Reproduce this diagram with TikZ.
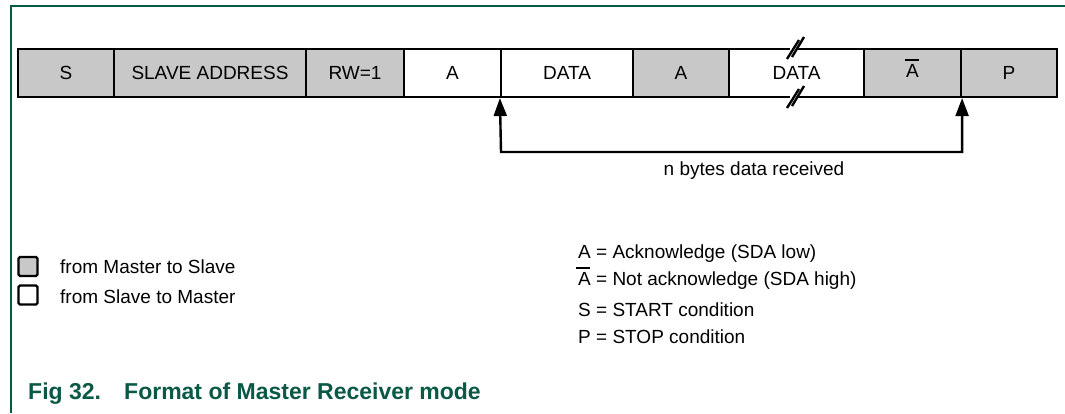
\documentclass[tikz,border=0pt]{standalone}
\usepackage{fontspec}
\setmainfont{Liberation Sans}
\usetikzlibrary{arrows.meta}
\definecolor{nxpgreen}{RGB}{10,88,70}
\definecolor{fieldgray}{RGB}{200,200,200}
\tikzset{
  field/.style={draw=black, line width=2.2pt, minimum height=48pt, inner sep=0pt, font=\fontsize{19}{23}\selectfont},
  mfield/.style={field, fill=fieldgray},
  sfield/.style={field, fill=white},
  lbl/.style={inner sep=0pt, anchor=base west, font=\fontsize{19}{23}\selectfont},
  legbox/.style={draw=black, line width=2.2pt, rounded corners=1.5pt, minimum width=19pt, minimum height=19pt, inner sep=0pt},
  brk/.style={line width=2.4pt, line cap=butt},
  conn/.style={line width=2.4pt, {Triangle[length=18pt,width=13pt]}-{Triangle[length=18pt,width=13pt]}},
  frame/.style={draw=nxpgreen, line width=1.6pt}
}
\begin{document}
\begin{tikzpicture}[x=1pt,y=-1pt]
\useasboundingbox (0,0) rectangle (1065,413);
% frame
\draw[frame] (1065,6) -- (11,6) -- (11,413);
% fields
\node[mfield, minimum width=96pt]  (s)    at (66,73)  {S};
\node[mfield, minimum width=192pt] (addr) at (210,73) {SLAVE ADDRESS};
\node[mfield, minimum width=98pt]  (rw)   at (355,73) {RW=1};
\node[sfield, minimum width=97pt]  (a1)   at (452.5,73) {A};
\node[sfield, minimum width=132pt] (d1)   at (567,73) {DATA};
\node[mfield, minimum width=96pt]  (a2)   at (681,73) {A};
\node[sfield, minimum width=135pt] (d2)   at (796.5,73) {DATA};
\node[mfield, minimum width=97pt]  (na)   at (912.5,73) {};
\node[mfield, minimum width=96pt]  (p)    at (1009,73) {P};
\node[lbl, anchor=base] (natext) at (912.5,77) {A};
\draw[line width=1.8pt] ([xshift=-1pt]natext.north west) ++(0,-4) -- ++(14,0) coordinate (nabar);
% break marks
\fill[white] (790,51) -- (797,51) -- (804,38) -- (799,38) -- (795,45) -- cycle;
\fill[white] (791,48) rectangle (800,45);
\fill[white] (789.5,51) rectangle (798,45.5);
\draw[brk] (787,59) -- (799,40);
\draw[brk] (792,57) -- (804,37);
\fill[white] (789.5,101) rectangle (798,95.5);
\draw[brk] (787,108) -- (799,89);
\draw[brk] (792,106) -- (804,86);
% connector
\coordinate (lo) at (501,152);
\draw[conn] (d1.south west) -- (lo) -| (na.south east);
\node[lbl, anchor=base] (nbytes) at (754,175) {n bytes data received};
% legend left
\node[legbox, fill=fieldgray] (lg1) at (28,266.5) {};
\node[legbox, fill=white] (lg2) at (28,295) {};
\node[lbl] (lt1) at (60,273) {from Master to Slave};
\node[lbl] (lt2) at (60,303) {from Slave to Master};
% legend right
\node[lbl] (r1) at (578,258) {A = Acknowledge (SDA low)};
\node[lbl] (r2) at (578,285) {A = Not acknowledge (SDA high)};
\draw[line width=2pt] (576,267.5) -- (590,267.5);
\node[lbl] (r3) at (578,316) {S = START condition};
\node[lbl] (r4) at (578,343) {P = STOP condition};
% caption
\node[inner sep=0pt, anchor=base west, text=nxpgreen, font=\fontsize{23}{27}\selectfont\bfseries] (fig) at (28,399) {Fig 32.};
\node[inner sep=0pt, anchor=base west, text=nxpgreen, font=\fontsize{23}{27}\selectfont\bfseries] (cap) at (124,399) {Format of Master Receiver mode};
\end{tikzpicture}
\end{document}
